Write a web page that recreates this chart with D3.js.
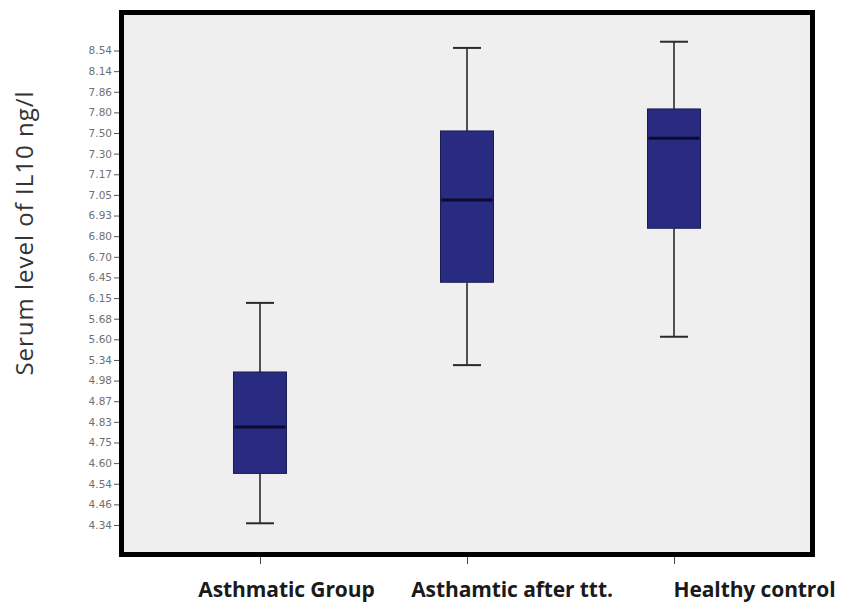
<!DOCTYPE html>
<html>
<head>
<meta charset="utf-8">
<script src="https://cdn.jsdelivr.net/npm/d3@7"></script>
<style>
  html, body { margin: 0; padding: 0; background: #ffffff; }
  svg { display: block; }
</style>
</head>
<body>
<svg id="chart" width="842" height="605"></svg>
<script>
// Groups and box-plot summaries (serum IL10, ng/l)
const categories = ["Asthmatic Group", "Asthamtic after ttt.", "Healthy control"];
const whiskerLow  = [4.35, 5.25, 5.61];
const q1          = [4.57, 6.38, 6.85];
const median      = [4.81, 7.02, 7.45];
const q3          = [5.13, 7.53, 7.81];
const whiskerHigh = [6.04, 8.59, 8.71];

// Axis tick labels, evenly spaced from top to bottom
const yTickLabels = ["8.54", "8.14", "7.86", "7.80", "7.50", "7.30", "7.17", "7.05",
  "6.93", "6.80", "6.70", "6.45", "6.15", "5.68", "5.60", "5.34", "4.98", "4.87",
  "4.83", "4.75", "4.60", "4.54", "4.46", "4.34"];
const yTickValues = yTickLabels.map(Number);

const yTitle = "Serum level of IL10 ng/l";

const boxes = categories.map((c, i) => ({
  cat: c, lo: whiskerLow[i], q1: q1[i], med: median[i], q3: q3[i], hi: whiskerHigh[i]
}));

const svg = d3.select("#chart");

// Plot frame
const frame = { left: 121.5, top: 12.5, right: 812.5, bottom: 554.5 };

const x = d3.scalePoint()
  .domain(categories)
  .range([frame.left, frame.right])
  .padding(0.669);

// Piecewise-linear value axis: each labelled value sits on an evenly spaced tick
const yTop = 50.5, yBottom = 525;
const yStep = (yBottom - yTop) / (yTickValues.length - 1);
const y = d3.scaleLinear()
  .domain(yTickValues)
  .range(yTickValues.map((d, i) => yTop + i * yStep));

// Panel background + frame
svg.append("rect")
  .attr("x", frame.left).attr("y", frame.top)
  .attr("width", frame.right - frame.left)
  .attr("height", frame.bottom - frame.top)
  .attr("fill", "#efefef")
  .attr("stroke", "#000")
  .attr("stroke-width", 5);

// Y axis (ticks and labels left of the frame)
const yAxis = d3.axisLeft(y)
  .tickValues(yTickValues)
  .tickFormat(d => d.toFixed(2))
  .tickSize(5)
  .tickPadding(2);

const yg = svg.append("g")
  .attr("transform", `translate(${frame.left - 2.5},0)`)
  .call(yAxis);
yg.select(".domain").remove();
yg.selectAll(".tick line").attr("stroke", "#555").attr("stroke-width", 1);
yg.selectAll(".tick text")
  .attr("fill", "#707070")
  .style("font-family", "'DejaVu Sans', sans-serif")
  .style("font-size", "10.5px");

// X axis ticks below the frame
const xAxis = d3.axisBottom(x).tickSize(7).tickFormat("");
const xg = svg.append("g")
  .attr("transform", `translate(0,${frame.bottom + 2.5})`)
  .call(xAxis);
xg.select(".domain").remove();
xg.selectAll(".tick line").attr("stroke", "#444").attr("stroke-width", 1);

// Category labels
const labelShift = [26.5, 45, 80.5];
svg.append("g").selectAll("text")
  .data(categories)
  .join("text")
  .attr("x", (d, i) => x(d) + labelShift[i])
  .attr("y", 597)
  .attr("text-anchor", "middle")
  .attr("fill", "#1a1a1a")
  .style("font-family", "'Open Sans', sans-serif")
  .style("font-weight", "bold")
  .style("font-size", "21px")
  .style("letter-spacing", "-0.1px")
  .text(d => d);

// Y title
svg.append("text")
  .attr("transform", "translate(33,233) rotate(-90)")
  .attr("text-anchor", "middle")
  .attr("fill", "#333")
  .style("font-family", "'Open Sans', sans-serif")
  .style("font-size", "24px")
  .style("letter-spacing", "1px")
  .text(yTitle);

// Box plots
const boxW = 53, capW = 28;
const g = svg.append("g");
const bx = g.selectAll("g.box").data(boxes).join("g").attr("class", "box");

// whiskers
bx.append("line")
  .attr("x1", d => x(d.cat)).attr("x2", d => x(d.cat))
  .attr("y1", d => y(d.hi)).attr("y2", d => y(d.q3))
  .attr("stroke", "#2a2a2a").attr("stroke-width", 1.6);
bx.append("line")
  .attr("x1", d => x(d.cat)).attr("x2", d => x(d.cat))
  .attr("y1", d => y(d.q1)).attr("y2", d => y(d.lo))
  .attr("stroke", "#2a2a2a").attr("stroke-width", 1.6);
// caps
bx.append("line")
  .attr("x1", d => x(d.cat) - capW / 2).attr("x2", d => x(d.cat) + capW / 2)
  .attr("y1", d => y(d.hi)).attr("y2", d => y(d.hi))
  .attr("stroke", "#2a2a2a").attr("stroke-width", 2);
bx.append("line")
  .attr("x1", d => x(d.cat) - capW / 2).attr("x2", d => x(d.cat) + capW / 2)
  .attr("y1", d => y(d.lo)).attr("y2", d => y(d.lo))
  .attr("stroke", "#2a2a2a").attr("stroke-width", 2);
// box
bx.append("rect")
  .attr("x", d => x(d.cat) - boxW / 2)
  .attr("y", d => y(d.q3))
  .attr("width", boxW)
  .attr("height", d => y(d.q1) - y(d.q3))
  .attr("fill", "#282b7f")
  .attr("stroke", "#1a1b52")
  .attr("stroke-width", 1);
// median
bx.append("line")
  .attr("x1", d => x(d.cat) - boxW / 2 + 1).attr("x2", d => x(d.cat) + boxW / 2 - 1)
  .attr("y1", d => y(d.med)).attr("y2", d => y(d.med))
  .attr("stroke", "#0b0b30").attr("stroke-width", 3);
</script>
</body>
</html>
